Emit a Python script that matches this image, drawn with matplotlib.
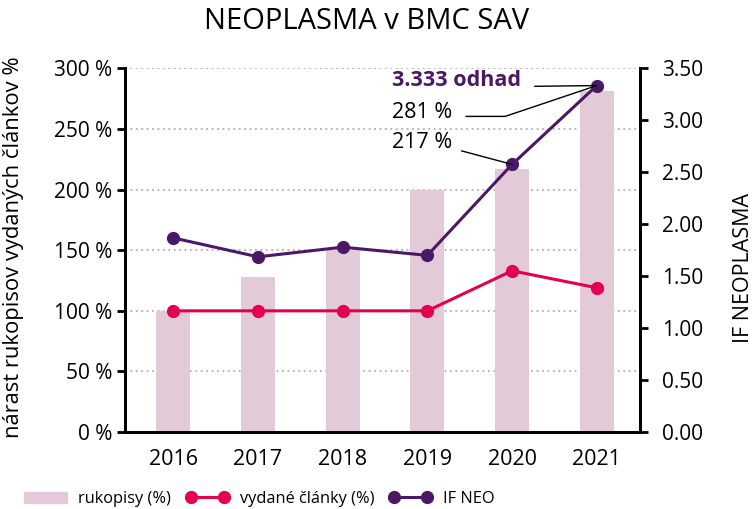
import numpy as np
import matplotlib.pyplot as plt
from matplotlib.lines import Line2D
from matplotlib.patches import Patch

plt.rcParams['font.family'] = ['Open Sans', 'DejaVu Sans']

years = ['2016', '2017', '2018', '2019', '2020', '2021']
rukopisy = [100, 128, 150, 200, 217, 281]
clanky = [100, 100, 100, 100, 133, 119]
if_neo = [1.868, 1.686, 1.779, 1.70, 2.575, 3.333]

bar_col = '#e3cad8'
red = '#e4004f'
purple = '#4a1866'

x = np.arange(len(years))

fig = plt.figure(figsize=(7.55, 5.09), dpi=100)
ax = fig.add_axes([0.1656, 0.151, 0.682, 0.715])
ax2 = ax.twinx()

ax.bar(x, rukopisy, width=0.4, color=bar_col, zorder=1)
ax.plot(x, clanky, color=red, lw=2.2, marker='o', ms=8.5, zorder=3)
ax2.plot(x, if_neo, color=purple, lw=2.2, marker='o', ms=8.5, zorder=3)

ax.set_xlim(-0.57, 5.51)
ax.set_ylim(0, 300)
ax2.set_ylim(0, 3.5)
ax.set_yticks(range(0, 301, 50))
ax.set_yticklabels([f'{v} %' for v in range(0, 301, 50)])
ax2.set_yticks(np.arange(0, 3.51, 0.5))
ax2.set_yticklabels([f'{v:.2f}' for v in np.arange(0, 3.51, 0.5)])
ax.set_xticks(x)
ax.set_xticklabels(years)

for v in range(50, 301, 50):
    ax.axhline(v, color='#b0b0b0', lw=1.3, ls=(0, (1, 2)), zorder=0)

for a in (ax, ax2):
    a.spines['top'].set_visible(False)
    for s in ('left', 'right', 'bottom'):
        a.spines[s].set_linewidth(2)
    a.tick_params(axis='y', labelsize=15, length=6, width=2, pad=3)
    a.tick_params(axis='x', labelsize=15.5, length=0, pad=12)
ax2.tick_params(axis='y', pad=10)

ax.set_ylabel('nárast rukopisov vydaných článkov %', fontsize=15.8)
ax.yaxis.set_label_coords(-0.196, 0.508)
ax2.set_ylabel('IF NEOPLASMA', fontsize=15.5)
ax2.yaxis.set_label_coords(1.18, 0.45)
fig.text(0.486, 0.957, 'NEOPLASMA v BMC SAV', fontsize=21, ha='center', va='center')

ax2.annotate('3.333 odhad', xy=(x[5], if_neo[5]), xytext=(2.58, 3.385),
             ha='left', va='center', fontsize=15.5, fontweight='bold', color=purple,
             arrowprops=dict(arrowstyle='-', color='black', lw=1, relpos=(1, 0.2),
                             shrinkA=8, shrinkB=0))
ax2.annotate('281 %', xy=(x[5], if_neo[5]), xytext=(2.58, 3.077),
             ha='left', va='center', fontsize=15.5,
             arrowprops=dict(arrowstyle='-', color='black', lw=1, relpos=(1, 0.3),
                             shrinkA=8, shrinkB=0,
                             connectionstyle='angle,angleA=0,angleB=18.6,rad=0'))
ax2.annotate('217 %', xy=(x[4], if_neo[4]), xytext=(2.58, 2.79),
             ha='left', va='center', fontsize=15.5,
             arrowprops=dict(arrowstyle='-', color='black', lw=1, relpos=(1, 0.2),
                             shrinkA=5, shrinkB=0))

handles = [Patch(color=bar_col),
           Line2D([], [], color=red, lw=2.2, marker='o', ms=8.5),
           Line2D([], [], color=purple, lw=2.2, marker='o', ms=8.5)]
fig.legend(handles, ['rukopisy (%)', 'vydané články (%)', 'IF NEO'],
           loc='lower center', bbox_to_anchor=(0.344, -0.025), ncol=3, frameon=False,
           fontsize=11.8, numpoints=2, handlelength=2.6, handletextpad=0.7,
           columnspacing=0.9)

fig.savefig('out.png', dpi=100)
